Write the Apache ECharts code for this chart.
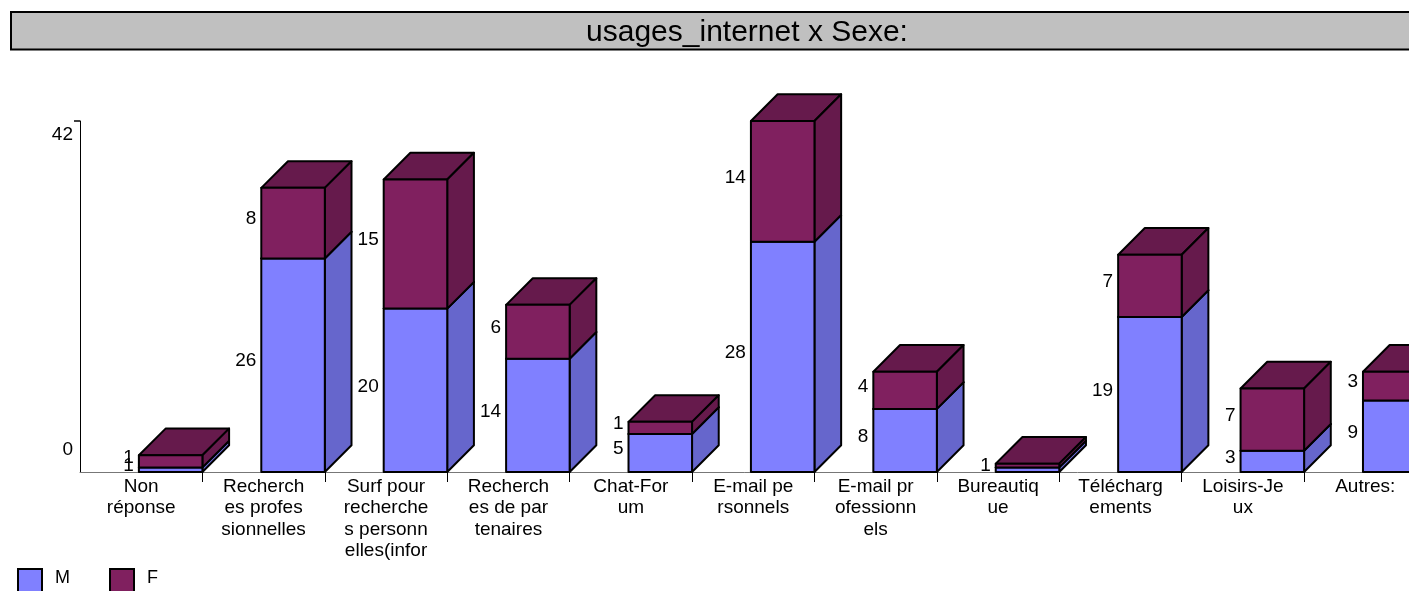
<!DOCTYPE html>
<html>
<head>
<meta charset="utf-8">
<style>html,body{margin:0;padding:0;background:#fff}#c{width:1409px;height:591px}</style>
<script src="https://cdn.jsdelivr.net/npm/echarts@6/dist/echarts.min.js"></script>
</head>
<body>
<div id="c"></div>
<script>
const titleText = 'usages_internet x Sexe:';
const categories = [
  'Non\nréponse',
  'Recherch\nes profes\nsionnelles',
  'Surf pour\nrecherche\ns personn\nelles(infor',
  'Recherch\nes de par\ntenaires',
  'Chat-For\num',
  'E-mail pe\nrsonnels',
  'E-mail pr\nofessionn\nels',
  'Bureautiq\nue',
  'Télécharg\nements',
  'Loisirs-Je\nux',
  'Autres:'
];
const valuesM = [1, 26, 20, 14, 5, 28, 8, 1, 19, 3, 9];
const valuesF = [1, 8, 15, 6, 1, 14, 4, 0, 7, 7, 3];
const yTicks = [0, 42];

const FONT = '"Liberation Sans", Arial, sans-serif';
const LABEL_SIZE = 19;
const SEAM = 0.45;         // the M/F boundary sits slightly under the M value in the reference
const BAR_RATIO = 0.519;
const DEPTH_RATIO = 0.218;
const STROKE = { stroke: '#000', lineWidth: 2, lineJoin: 'round' };

function box(x0, x1, yb, yt, d, front, side, top) {
  return [
    { type: 'polygon', shape: { points: [[x0, yt], [x0 + d, yt - d], [x1 + d, yt - d], [x1, yt]] }, style: Object.assign({ fill: top }, STROKE) },
    { type: 'polygon', shape: { points: [[x1, yb], [x1 + d, yb - d], [x1 + d, yt - d], [x1, yt]] }, style: Object.assign({ fill: side }, STROKE) },
    { type: 'polygon', shape: { points: [[x0, yb], [x1, yb], [x1, yt], [x0, yt]] }, style: Object.assign({ fill: front }, STROKE) }
  ];
}

function renderer(front, side, isF) {
  return function (params, api) {
    const i = api.value(0);
    const m = valuesM[i], f = valuesF[i];
    const low = isF ? m - SEAM : 0;
    const high = isF ? m + f : m - SEAM;
    const shown = isF ? f : m;
    const c0 = api.coord([i, low]);
    const c1 = api.coord([i, high]);
    const band = api.size([1, 0])[0];
    const x1 = c0[0] + band / 2;
    const x0 = x1 - band * BAR_RATIO;
    const d = band * DEPTH_RATIO;
    const children = box(x0, x1, c0[1], c1[1], d, front, side, side);
    if (shown > 0) {
      children.push({
        type: 'text',
        style: {
          text: String(shown),
          x: x0 - 5,
          y: (c0[1] + c1[1]) / 2 - 4,
          align: 'right',
          verticalAlign: 'middle',
          fontSize: LABEL_SIZE,
          fontFamily: FONT,
          fill: '#000'
        }
      });
    }
    return { type: 'group', children: children };
  };
}

const chart = echarts.init(document.getElementById('c'), null, { renderer: 'canvas' });
const legendBase = {
  orient: 'horizontal', top: 568, itemWidth: 24, itemHeight: 24, icon: 'rect', padding: 0,
  selectedMode: false,
  formatter: '{t|{name}}',
  textStyle: {
    rich: { t: { fontFamily: FONT, fontSize: LABEL_SIZE - 1, color: '#000', padding: [0, 0, 6, 8] } }
  }
};
chart.setOption({
  animation: false,
  backgroundColor: '#fff',
  title: {
    text: titleText, left: 747, top: 15, textAlign: 'center', padding: 0,
    textStyle: { fontFamily: FONT, fontSize: 30, lineHeight: 36, fontWeight: 'normal', color: '#000' }
  },
  graphic: [{
    type: 'rect', z: -1,
    shape: { x: 11, y: 12, width: 1500, height: 37.5 },
    style: { fill: '#c0c0c0', stroke: '#000', lineWidth: 2 }
  }],
  legend: [
    Object.assign({}, legendBase, { left: 17, data: ['M'] }),
    Object.assign({}, legendBase, { left: 109, data: ['F'] })
  ],
  grid: { left: 80, top: 121, width: 1346.5, height: 351, outerBoundsMode: 'none' },
  xAxis: {
    type: 'category', data: categories,
    axisLine: { lineStyle: { color: '#777', width: 1 } },
    axisTick: { show: true, length: 10, interval: function (idx) { return idx > 0; }, lineStyle: { color: '#000', width: 1 } },
    axisLabel: { interval: 0, margin: 4, fontFamily: FONT, fontSize: LABEL_SIZE, lineHeight: 21.4, color: '#000', align: 'center' }
  },
  yAxis: {
    type: 'value', min: yTicks[0], max: yTicks[1], interval: 42,
    splitLine: { show: false },
    axisLine: { show: true, lineStyle: { color: '#000', width: 1 } },
    axisTick: { show: true, length: 6, customValues: [42], lineStyle: { color: '#000', width: 1.5 } },
    axisLabel: {
      customValues: yTicks, margin: 7, fontFamily: FONT, fontSize: LABEL_SIZE, color: '#000',
      formatter: function (v) { return v === 0 ? '{low|0}' : '{high|' + v + '}'; },
      rich: {
        low: { fontFamily: FONT, fontSize: LABEL_SIZE, padding: [0, 0, 44, 0] },
        high: { fontFamily: FONT, fontSize: LABEL_SIZE, padding: [28, 0, 0, 0] }
      }
    }
  },
  series: [
    {
      name: 'M', type: 'custom', clip: false,
      itemStyle: { color: '#8080ff', borderColor: '#000', borderWidth: 2 },
      data: valuesM.map((v, i) => [i, v]),
      encode: { x: 0, y: 1 },
      renderItem: renderer('#8080ff', '#6666cc', false)
    },
    {
      name: 'F', type: 'custom', clip: false,
      itemStyle: { color: '#80205f', borderColor: '#000', borderWidth: 2 },
      data: valuesF.map((v, i) => [i, valuesM[i] + v]),
      encode: { x: 0, y: 1 },
      renderItem: renderer('#80205f', '#661a4c', true)
    }
  ]
});
</script>
</body>
</html>
